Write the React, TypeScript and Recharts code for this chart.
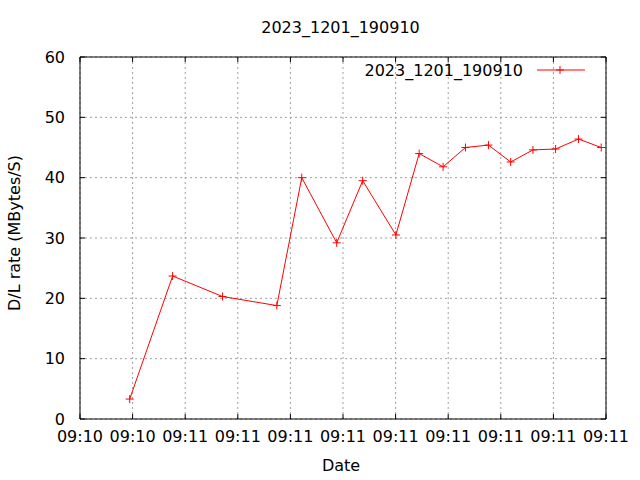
import React from "react";
import { LineChart, Line, XAxis, YAxis, CartesianGrid, Legend } from "recharts";

const seriesName = "2023_1201_190910";
const chartTitle = "2023_1201_190910";
const xTitle = "Date";
const yTitle = "D/L rate (MBytes/S)";

// x position measured in tick units (0 = first tick, 10 = last tick)
const xPos = [0.945, 1.761, 2.71, 3.742, 4.216, 4.88, 5.374, 6.006, 6.448, 6.903, 7.328, 7.765, 8.188, 8.611, 9.042, 9.478, 9.909];
const rates = [3.3, 23.7, 20.3, 18.8, 40.0, 29.2, 39.5, 30.5, 44.0, 41.8, 45.0, 45.4, 42.6, 44.6, 44.75, 46.4, 45.0];

const xTicks = [0, 1, 2, 3, 4, 5, 6, 7, 8, 9, 10];
const xTickLabels = ["09:10", "09:10", "09:11", "09:11", "09:11", "09:11", "09:11", "09:11", "09:11", "09:11", "09:11"];
const yTicks = [0, 10, 20, 30, 40, 50, 60];

const data = xPos.map((x, i) => ({ x, rate: rates[i] }));

const FONT = "DejaVu Sans, sans-serif";
const TICK_LEN = 5;
const GRID_COLOR = "#a0a0a0";
const GRID_DASH = "2 3";

// layout constants
const CHART_W = 640;
const CHART_H = 480;
const MARGIN = { top: 57, right: 34, bottom: 0, left: 0 };
const YAXIS_W = 80;
const XAXIS_H = 61;
const PLOT_W = CHART_W - MARGIN.left - MARGIN.right - YAXIS_W;
const PLOT_H = CHART_H - MARGIN.top - MARGIN.bottom - XAXIS_H;

// bottom tick: inward tick, label, mirrored tick on the top edge (and the top frame line)
const BottomTick = (props: any) => {
  const { x, y, payload, index } = props;
  const top = y - PLOT_H;
  return (
    <g>
      {index === 0 && <line x1={x} y1={top} x2={x + PLOT_W} y2={top} stroke="#000" strokeWidth={1} />}
      <line x1={x} y1={y} x2={x} y2={y - TICK_LEN} stroke="#000" strokeWidth={1} />
      <line x1={x} y1={top} x2={x} y2={top + TICK_LEN} stroke="#000" strokeWidth={1} />
      <text x={x} y={y + 12} dy="0.71em" textAnchor="middle" fontSize={16} fontFamily={FONT} fill="#000">
        {xTickLabels[index] ?? payload.value}
      </text>
    </g>
  );
};

// left tick: inward tick, label, mirrored tick on the right edge (and the right frame line)
const LeftTick = (props: any) => {
  const { x, y, payload, index } = props;
  const right = x + PLOT_W;
  return (
    <g>
      {index === 0 && <line x1={right} y1={y} x2={right} y2={y - PLOT_H} stroke="#000" strokeWidth={1} />}
      <line x1={x} y1={y} x2={x + TICK_LEN} y2={y} stroke="#000" strokeWidth={1} />
      <line x1={right} y1={y} x2={right - TICK_LEN} y2={y} stroke="#000" strokeWidth={1} />
      <text x={x - 15} y={y} dy="0.36em" textAnchor="end" fontSize={16} fontFamily={FONT} fill="#000">
        {payload.value}
      </text>
    </g>
  );
};

const PlusDot = (props: any) => {
  const { cx, cy, index } = props;
  if (cx == null || cy == null) return null;
  return (
    <path
      key={"d" + index}
      d={`M${cx - 4},${cy}H${cx + 4}M${cx},${cy - 4}V${cy + 4}`}
      stroke="#ff0000"
      strokeWidth={1}
      fill="none"
    />
  );
};

const LegendContent = () => (
  <svg width={240} height={24} style={{ display: "block" }}>
    <text x={163} y={12} dy="0.36em" textAnchor="end" fontSize={16} fontFamily={FONT} fill="#000">
      {seriesName}
    </text>
    <line x1={177} y1={12} x2={225} y2={12} stroke="#ff0000" strokeWidth={1} />
    <path d="M196,12H204M200,8V16" stroke="#ff0000" strokeWidth={1} />
  </svg>
);

export default function App() {
  return (
    <div style={{ position: "absolute", left: 0, top: 0, width: CHART_W, height: CHART_H, background: "#fff" }}>
      <div
        style={{
          position: "absolute",
          left: 0,
          width: 681,
          top: 18,
          textAlign: "center",
          fontFamily: FONT,
          fontSize: 16,
          lineHeight: "20px",
          color: "#000",
        }}
      >
        {chartTitle}
      </div>
      <LineChart
        width={CHART_W}
        height={CHART_H}
        data={data}
        margin={MARGIN}
        style={{ position: "absolute", left: 0, top: 0 }}
      >
        <CartesianGrid xAxisId="b" yAxisId="l" stroke={GRID_COLOR} strokeDasharray={GRID_DASH} />
        <XAxis
          xAxisId="b"
          dataKey="x"
          type="number"
          domain={[0, 10]}
          ticks={xTicks}
          interval={0}
          orientation="bottom"
          height={XAXIS_H}
          tickSize={0}
          tickMargin={0}
          tickLine={false}
          tick={<BottomTick />}
          axisLine={{ stroke: "#000", strokeWidth: 1 }}
          label={(p: any) => {
            const vb = p.viewBox;
            return (
              <text x={341} y={vb.y + 46} dy="0.36em" textAnchor="middle" fontSize={16} fontFamily={FONT} fill="#000">
                {xTitle}
              </text>
            );
          }}
        />
        <YAxis
          yAxisId="l"
          type="number"
          domain={[0, 60]}
          ticks={yTicks}
          interval={0}
          orientation="left"
          width={YAXIS_W}
          tickSize={0}
          tickMargin={0}
          tickLine={false}
          tick={<LeftTick />}
          axisLine={{ stroke: "#000", strokeWidth: 1 }}
          label={() => {
            const cx = 14.5;
            const cy = 233;
            return (
              <text
                x={cx}
                y={cy}
                dy="0.36em"
                textAnchor="middle"
                fontSize={16}
                fontFamily={FONT}
                fill="#000"
                transform={`rotate(-90 ${cx} ${cy})`}
              >
                {yTitle}
              </text>
            );
          }}
        />
        <Legend
          layout="horizontal"
          verticalAlign="middle"
          align="center"
          content={<LegendContent />}
          wrapperStyle={{ position: "absolute", left: 360, top: 58, width: 240, height: 24 }}
        />
        <Line
          xAxisId="b"
          yAxisId="l"
          type="linear"
          dataKey="rate"
          name={seriesName}
          stroke="#ff0000"
          strokeWidth={1}
          dot={<PlusDot />}
          activeDot={false}
          isAnimationActive={false}
        />
      </LineChart>
    </div>
  );
}
